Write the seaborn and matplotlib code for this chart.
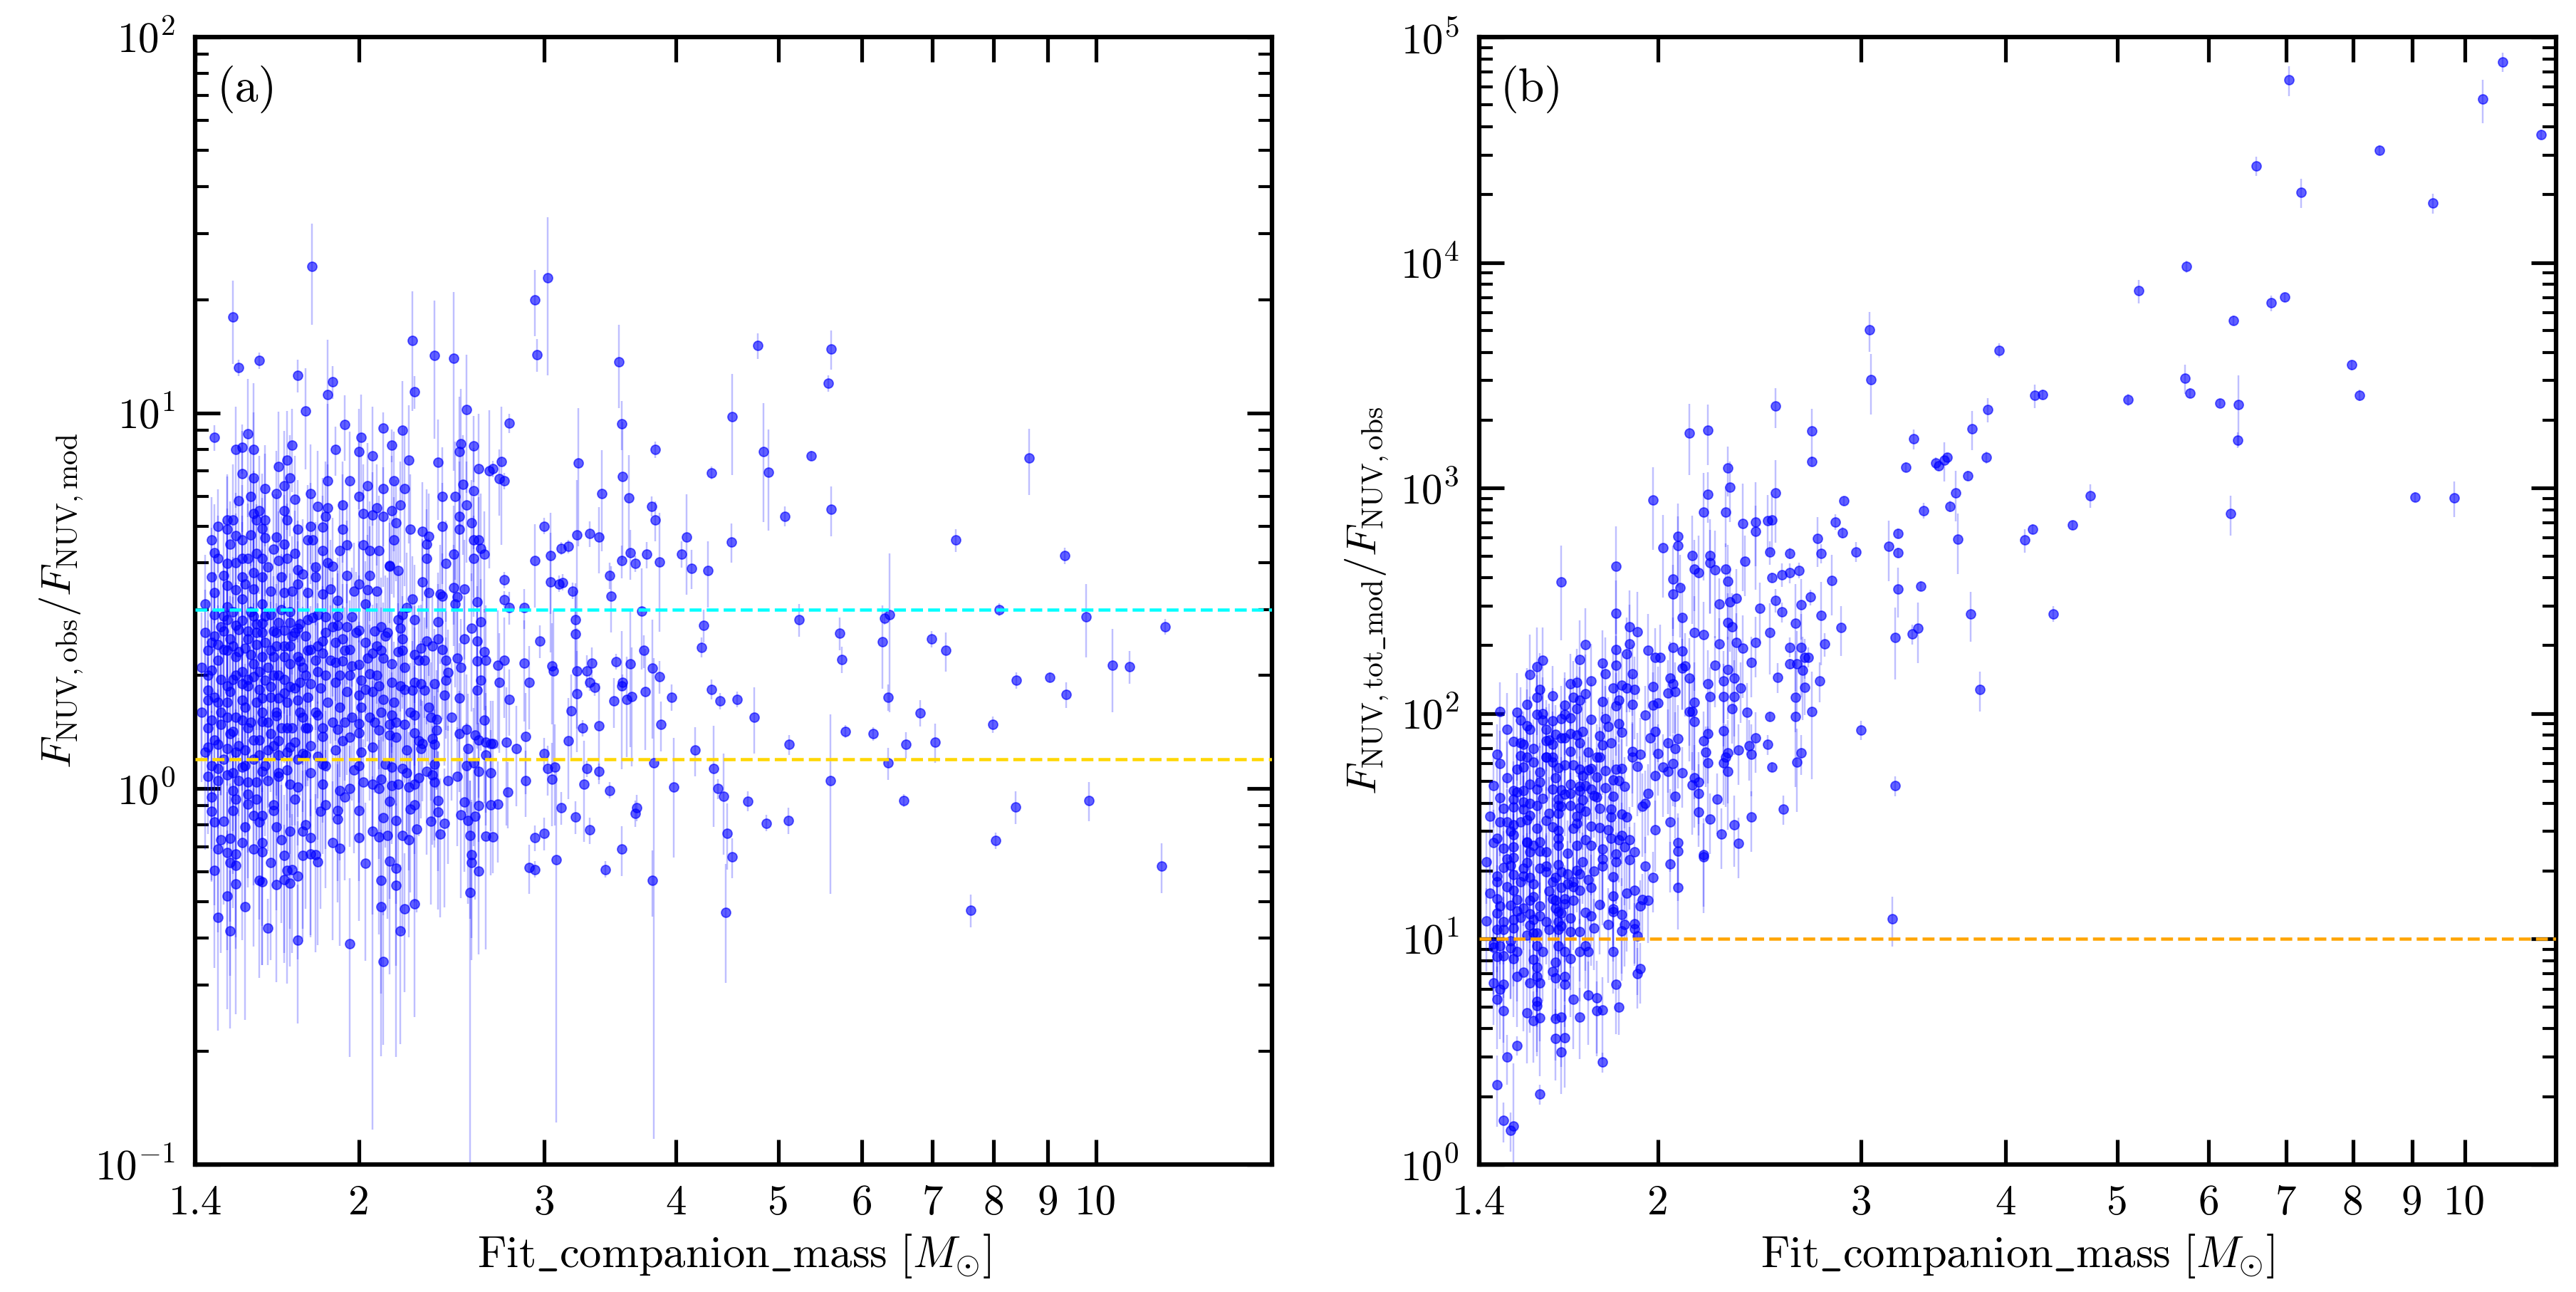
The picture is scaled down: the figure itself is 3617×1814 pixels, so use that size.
import numpy as np
import matplotlib
matplotlib.use("Agg")
import matplotlib.pyplot as plt
from matplotlib.ticker import FixedLocator, FixedFormatter, NullLocator, LogLocator, NullFormatter
import seaborn as sns

# (mass, ratio, relative error), panel (a)
a_sparse = [
    (3.82, 8.0, 0.05), (3.79, 5.65, 0.06), (3.82, 5.18, 0.12), (3.86, 4.02, 0.35), (3.75, 4.2, 0.08),
    (3.73, 2.33, 0.1), (3.80, 2.09, 0.35), (3.86, 1.99, 0.1), (3.74, 1.81, 0.3), (3.87, 1.48, 0.15),
    (3.81, 1.17, 0.9), (3.80, 0.57, 0.2), (3.96, 1.75, 0.08), (3.98, 1.01, 0.35), (4.05, 4.21, 0.08),
    (4.09, 4.68, 0.3), (4.14, 3.86, 0.12), (4.17, 1.27, 0.15), (4.23, 2.38, 0.06), (4.25, 2.72, 0.1),
    (4.29, 3.80, 0.2), (4.32, 6.92, 0.04), (4.32, 1.84, 0.06), (4.34, 1.13, 0.3), (4.38, 1.0, 0.06),
    (4.40, 1.71, 0.05), (4.44, 0.955, 0.3), (4.46, 0.468, 0.35), (4.47, 0.76, 0.2), (4.52, 9.75, 0.3),
    (4.51, 4.54, 0.12), (4.52, 0.658, 0.12), (4.57, 1.73, 0.05), (4.68, 0.927, 0.06), (4.74, 1.55, 0.2),
    (4.78, 15.1, 0.08), (4.84, 7.88, 0.35), (4.89, 6.95, 0.3), (4.87, 0.81, 0.05), (5.07, 5.31, 0.06),
    (5.12, 1.31, 0.06), (5.11, 0.824, 0.08), (5.23, 2.82, 0.1), (5.37, 7.69, 0.03), (5.58, 12.0, 0.05),
    (5.61, 14.8, 0.12), (5.61, 5.53, 0.15), (5.60, 1.05, 0.5), (5.72, 2.59, 0.1), (5.74, 2.21, 0.08),
    (5.79, 1.42, 0.04), (6.15, 1.40, 0.04), (6.28, 2.46, 0.25), (6.30, 2.84, 0.04), (6.37, 2.91, 0.45),
    (6.35, 1.75, 0.08), (6.35, 1.17, 0.1), (6.57, 0.931, 0.04), (6.61, 1.31, 0.08), (6.81, 1.59, 0.08),
    (6.99, 2.50, 0.05), (7.04, 1.33, 0.12), (7.21, 2.33, 0.12), (7.37, 4.59, 0.07), (7.61, 0.475, 0.1),
    (7.99, 1.48, 0.05), (8.04, 0.727, 0.05), (8.10, 3.0, 0.04), (8.41, 1.94, 0.05), (8.39, 0.895, 0.1),
    (8.64, 7.57, 0.2), (9.04, 1.98, 0.03), (9.35, 4.17, 0.05), (9.37, 1.78, 0.08), (9.79, 2.87, 0.22),
    (9.85, 0.931, 0.12), (10.37, 2.13, 0.25), (10.77, 2.11, 0.1), (11.55, 0.621, 0.15), (11.64, 2.70, 0.05),
]

a_mid = [
    (3.02, 22.9, 0.45), (2.94, 20.0, 0.2), (2.95, 14.3, 0.1), (2.78, 9.4, 0.06), (2.73, 7.42, 0.4),
    (2.72, 6.67, 0.2), (2.75, 6.6, 0.05), (2.68, 7.1, 0.05), (3.53, 13.7, 0.25), (3.55, 9.37, 0.15),
    (3.23, 7.35, 0.4), (3.40, 6.11, 0.3), (3.56, 6.77, 0.4), (3.61, 5.93, 0.3), (3.0, 5.0, 0.05),
    (2.94, 4.04, 0.25), (3.04, 4.17, 0.3), (3.04, 3.55, 0.35), (3.11, 4.36, 0.04), (3.16, 4.41, 0.04),
    (3.22, 4.74, 0.4), (3.31, 4.77, 0.08), (3.38, 4.68, 0.2), (2.75, 3.6, 0.05), (2.75, 3.19, 0.05),
    (2.78, 3.04, 0.1), (2.87, 3.03, 0.12), (3.10, 3.51, 0.05), (3.12, 3.54, 0.05), (3.19, 3.36, 0.05),
    (3.46, 3.70, 0.08), (3.47, 3.26, 0.2), (3.55, 4.04, 0.1), (3.62, 4.24, 0.15), (3.66, 3.97, 0.05),
    (2.97, 2.47, 0.1), (3.21, 2.82, 0.25), (3.21, 2.58, 0.3), (2.87, 2.16, 0.3), (2.90, 1.92, 0.25),
    (3.05, 2.12, 0.3), (3.06, 2.06, 0.45), (3.18, 1.61, 0.25), (3.22, 2.06, 0.3), (3.22, 1.79, 0.3),
    (3.26, 1.45, 0.05), (3.29, 2.06, 0.1), (3.31, 1.92, 0.05), (3.33, 2.16, 0.1), (3.35, 1.86, 0.05),
    (3.38, 1.47, 0.3), (3.16, 1.34, 0.3), (3.49, 1.71, 0.15), (3.51, 2.18, 0.05), (3.55, 1.88, 0.4),
    (3.56, 1.92, 0.05), (3.59, 1.73, 0.3), (3.62, 2.15, 0.4), (3.63, 1.76, 0.35), (3.71, 2.97, 0.3),
    (2.71, 2.13, 0.4), (2.72, 1.92, 0.35), (2.75, 2.20, 0.3), (2.78, 1.73, 0.2), (2.68, 1.32, 0.3),
    (2.76, 1.33, 0.4), (2.82, 1.28, 0.3), (2.88, 1.38, 0.3), (3.0, 1.24, 0.1), (3.02, 1.13, 0.15),
    (3.07, 1.14, 0.3), (3.05, 1.06, 0.25), (3.29, 1.13, 0.05), (3.27, 1.03, 0.3), (3.38, 1.11, 0.05),
    (2.88, 1.05, 0.2), (2.77, 0.98, 0.2), (2.71, 0.91, 0.3), (3.11, 0.89, 0.1), (3.46, 0.99, 0.05),
    (3.21, 0.84, 0.1), (3.31, 0.776, 0.08), (3.67, 0.89, 0.08), (3.66, 0.86, 0.08), (2.68, 0.745, 0.2),
    (2.94, 0.74, 0.08), (3.0, 0.76, 0.1), (3.08, 0.648, 0.8), (2.90, 0.618, 0.15), (2.94, 0.61, 0.05),
    (3.43, 0.61, 0.05), (3.55, 0.69, 0.15),
]

a_upper = [
    (1.805, 24.5, 0.3), (1.52, 18.0, 0.25), (1.54, 13.2, 0.05), (1.61, 13.8, 0.05), (1.75, 12.6, 0.1),
    (1.89, 12.1, 0.1), (1.87, 11.2, 0.4), (1.78, 10.1, 0.3), (2.25, 15.6, 0.35), (2.26, 11.4, 0.1),
    (2.36, 14.2, 0.4), (2.46, 14.0, 0.5), (2.53, 10.2, 0.4), (1.46, 8.6, 0.08), (1.57, 8.8, 0.4),
    (1.53, 8.0, 0.3), (1.55, 8.1, 0.15), (1.59, 8.0, 0.5), (1.55, 6.88, 0.3), (1.54, 5.85, 0.4),
    (1.59, 6.7, 0.5), (1.58, 6.0, 0.35), (1.59, 5.4, 0.3), (1.61, 5.5, 0.4), (1.60, 5.2, 0.3),
    (1.63, 6.3, 0.3), (1.63, 5.2, 0.5), (1.62, 4.93, 0.4), (1.68, 7.2, 0.4), (1.67, 6.1, 0.3),
    (1.71, 7.5, 0.35), (1.73, 8.2, 0.25), (1.72, 6.7, 0.3), (1.70, 6.4, 0.4), (1.74, 5.9, 0.3),
    (1.70, 5.5, 0.4), (1.71, 5.2, 0.3), (1.75, 4.9, 0.35), (1.50, 5.2, 0.3), (1.52, 5.2, 0.4),
    (1.47, 5.0, 0.25), (1.50, 4.9, 0.4), (1.45, 4.6, 0.3), (1.46, 4.24, 0.35), (1.51, 4.47, 0.3),
    (1.58, 4.74, 0.45), (1.53, 4.72, 0.3), (1.55, 4.6, 0.4), (1.63, 4.65, 0.3), (1.67, 4.67, 0.3),
    (1.70, 4.47, 0.35), (1.80, 5.0, 0.3), (1.79, 4.6, 0.4), (1.81, 4.6, 0.3), (1.85, 4.97, 0.35),
    (1.86, 5.3, 0.4), (1.87, 5.6, 0.3), (1.83, 5.65, 0.4), (1.80, 6.1, 0.35), (1.87, 6.6, 0.6),
    (1.90, 8.0, 0.15), (1.94, 9.3, 0.2), (1.96, 6.6, 0.35), (1.93, 5.7, 0.3), (1.93, 4.9, 0.4),
    (2.00, 7.9, 0.3), (2.01, 8.6, 0.3), (2.04, 6.4, 0.3), (2.00, 6.0, 0.4), (2.02, 5.4, 0.35),
    (2.06, 7.7, 0.35), (2.06, 5.35, 0.3), (2.08, 5.6, 0.3), (2.11, 9.1, 0.1), (2.15, 8.2, 0.1),
    (2.11, 6.3, 0.3), (2.11, 5.3, 0.35), (2.16, 6.6, 0.35), (2.15, 5.5, 0.4), (2.17, 5.1, 0.3),
    (2.16, 4.6, 0.3), (2.20, 9.0, 0.35), (2.23, 7.49, 0.4), (2.21, 6.3, 0.45), (2.19, 5.7, 0.3),
    (2.24, 4.9, 0.4), (2.38, 7.4, 0.3), (2.40, 6.0, 0.35), (2.47, 6.0, 0.4), (2.50, 8.27, 0.4),
    (2.49, 7.9, 0.4), (2.57, 8.17, 0.2), (2.60, 7.1, 0.4), (2.66, 7.0, 0.45), (2.51, 6.45, 0.35),
    (2.57, 6.2, 0.3), (2.53, 5.7, 0.3), (2.49, 5.3, 0.4), (2.56, 5.1, 0.3), (2.49, 4.9, 0.3),
    (2.40, 5.0, 0.3), (2.30, 4.85, 0.35), (2.33, 4.7, 0.3), (2.32, 4.47, 0.4), (2.57, 4.6, 0.3),
    (2.60, 4.6, 0.3), (2.61, 4.35, 0.4), (2.63, 4.2, 0.3), (2.57, 4.1, 0.3), (2.46, 4.2, 0.35),
    (2.42, 3.97, 0.3), (2.32, 4.1, 0.35), (2.14, 3.93, 0.3), (2.18, 3.8, 0.3), (2.09, 4.3, 0.4),
    (2.05, 4.3, 0.35), (2.02, 4.45, 0.4), (1.95, 4.45, 0.3), (1.92, 4.3, 0.35), (1.85, 4.3, 0.4),
    (1.87, 4.0, 0.3), (1.89, 3.9, 0.35), (1.82, 3.89, 0.3), (1.77, 3.73, 0.4), (1.75, 3.83, 0.35),
    (1.74, 4.23, 0.3), (1.71, 4.1, 0.4), (1.68, 4.05, 0.35), (1.66, 4.34, 0.4), (1.64, 3.89, 0.3),
    (1.62, 4.1, 0.45), (1.60, 4.23, 0.35), (1.57, 4.1, 0.4), (1.55, 4.1, 0.3), (1.53, 4.0, 0.35),
    (1.50, 3.97, 0.4), (1.47, 4.1, 0.3), (1.45, 3.66, 0.35), (1.49, 3.69, 0.4), (1.46, 3.32, 0.3),
    (1.50, 3.47, 0.45), (1.53, 3.38, 0.35), (1.55, 3.66, 0.4), (1.56, 3.5, 0.3), (1.59, 3.76, 0.45),
    (1.59, 3.4, 0.35), (1.62, 3.66, 0.4), (1.65, 3.35, 0.3), (1.69, 3.66, 0.45), (1.70, 3.33, 0.35),
    (1.73, 3.35, 0.4), (1.75, 3.5, 0.3), (1.79, 3.33, 0.35), (1.82, 3.66, 0.4), (1.85, 3.3, 0.3),
    (1.88, 3.4, 0.35), (1.91, 3.17, 0.3), (1.95, 3.69, 0.4), (1.98, 3.35, 0.35), (2.00, 3.5, 0.3),
    (2.04, 3.38, 0.4), (2.05, 3.69, 0.35), (2.08, 3.35, 0.3), (2.03, 3.1, 0.3), (2.14, 3.9, 0.35),
    (2.25, 3.2, 0.3), (2.22, 3.03, 0.4), (2.30, 3.55, 0.3), (2.33, 3.33, 0.4), (2.39, 3.3, 0.35),
    (2.40, 3.25, 0.3), (2.46, 3.43, 0.3), (2.52, 3.4, 0.35), (2.48, 3.24, 0.3), (2.47, 3.1, 0.4),
    (2.59, 3.14, 0.3),
]

a_core = [
    (2.26, 2.82, 0.4), (2.38, 2.78, 0.35), (2.61, 2.78, 0.3), (2.56, 2.67, 0.4), (2.18, 2.82, 0.35),
    (2.20, 2.9, 0.3), (2.19, 2.67, 0.4), (2.10, 2.7, 0.35), (2.07, 2.63, 0.3), (2.12, 2.55, 0.45),
    (2.00, 2.64, 0.4), (1.97, 2.87, 0.35), (1.95, 2.7, 0.3), (1.91, 2.72, 0.4), (1.89, 2.7, 0.35),
    (1.91, 2.88, 0.3), (1.86, 2.87, 0.4), (1.83, 2.9, 0.35), (1.79, 2.82, 0.3), (1.75, 2.67, 0.45),
    (1.72, 2.77, 0.35), (1.70, 2.64, 0.4), (1.73, 2.55, 0.3), (1.68, 2.77, 0.35), (1.66, 2.63, 0.4),
    (1.63, 2.88, 0.3), (1.62, 2.76, 0.35), (1.60, 2.6, 0.45), (1.62, 2.6, 0.4), (1.59, 2.88, 0.3),
    (1.55, 2.8, 0.35), (1.57, 2.63, 0.4), (1.53, 2.72, 0.3), (1.50, 2.82, 0.35), (1.49, 2.88, 0.4),
    (1.46, 2.55, 0.3), (1.49, 2.63, 0.45), (1.44, 2.33, 0.35), (1.47, 2.42, 0.4), (1.50, 2.33, 0.3),
    (1.52, 2.4, 0.35), (1.54, 2.31, 0.4), (1.56, 2.37, 0.3), (1.58, 2.27, 0.35), (1.60, 2.42, 0.45),
    (1.62, 2.25, 0.4), (1.65, 2.33, 0.35), (1.67, 2.4, 0.3), (1.70, 2.25, 0.4), (1.72, 2.4, 0.35),
    (1.76, 2.19, 0.3), (1.79, 2.33, 0.4), (1.82, 2.2, 0.35), (1.85, 2.29, 0.3), (1.85, 2.47, 0.4),
    (1.90, 2.17, 0.35), (1.94, 2.33, 0.3), (1.93, 2.19, 0.4), (1.97, 2.12, 0.35), (2.00, 2.14, 0.3),
    (2.04, 2.23, 0.4), (2.06, 2.29, 0.35), (2.10, 2.33, 0.3), (2.11, 2.23, 0.4), (2.05, 2.02, 0.35),
    (2.08, 2.0, 0.3), (2.15, 2.15, 0.4), (2.18, 2.31, 0.35), (2.20, 2.33, 0.3), (2.21, 2.1, 0.4),
    (2.26, 2.27, 0.35), (2.29, 2.37, 0.3), (2.32, 2.47, 0.4), (2.35, 2.4, 0.35), (2.31, 2.2, 0.3),
    (2.38, 2.5, 0.4), (2.42, 2.2, 0.35), (2.43, 2.04, 0.3), (2.48, 2.23, 0.4), (2.50, 2.1, 0.35),
    (2.52, 2.5, 0.3), (2.59, 2.47, 0.4), (2.59, 2.19, 0.35), (2.63, 2.31, 0.3), (2.64, 2.2, 0.4),
    (2.61, 1.94, 0.35), (2.59, 1.83, 0.3), (2.49, 1.74, 0.4), (2.41, 1.77, 0.35), (2.42, 1.94, 0.3),
    (2.36, 1.9, 0.4), (2.31, 1.83, 0.35), (2.29, 1.9, 0.3), (2.26, 1.92, 0.4), (2.25, 1.83, 0.35),
    (2.21, 1.84, 0.3), (2.19, 1.88, 0.4), (2.15, 1.92, 0.35), (2.11, 1.73, 0.3), (2.09, 1.88, 0.4),
    (2.06, 1.81, 0.35), (2.03, 1.84, 0.3), (2.00, 1.77, 0.4), (2.01, 1.94, 0.35), (1.96, 2.0, 0.3),
    (1.95, 1.81, 0.4), (1.92, 2.0, 0.35), (1.90, 1.92, 0.3), (1.86, 2.0, 0.4), (1.83, 2.05, 0.35),
    (1.80, 1.9, 0.3), (1.78, 2.0, 0.4), (1.76, 1.92, 0.35), (1.75, 1.72, 0.3), (1.72, 1.87, 0.4),
    (1.70, 1.8, 0.35), (1.68, 1.74, 0.3), (1.66, 2.0, 0.4), (1.65, 1.87, 0.35), (1.63, 1.94, 0.3),
    (1.62, 1.74, 0.4), (1.61, 1.84, 0.35), (1.59, 1.99, 0.3), (1.57, 1.88, 0.4), (1.55, 1.72, 0.35),
    (1.55, 1.9, 0.3), (1.53, 2.0, 0.4), (1.51, 1.81, 0.35), (1.50, 1.88, 0.3), (1.48, 1.95, 0.4),
    (1.44, 1.83, 0.35), (1.44, 1.72, 0.3), (1.45, 2.07, 0.4), (1.47, 1.7, 0.35),
]

# the solid blob of overlapping markers, estimated from its density
a_blob = [
    (1.42, 2.1, 0.4), (1.42, 1.6, 0.35), (1.43, 2.6, 0.3), (1.43, 1.25, 0.45), (1.43, 3.1, 0.35),
    (1.44, 2.0, 0.4), (1.44, 1.45, 0.3), (1.45, 2.45, 0.35), (1.45, 1.15, 0.4), (1.46, 2.9, 0.3),
    (1.46, 1.75, 0.45), (1.46, 1.35, 0.35), (1.47, 2.2, 0.4), (1.47, 1.05, 0.3), (1.48, 2.7, 0.35),
    (1.48, 1.6, 0.4), (1.49, 2.35, 0.45), (1.49, 1.2, 0.3), (1.50, 3.05, 0.35), (1.50, 1.7, 0.4),
    (1.51, 2.5, 0.3), (1.51, 1.4, 0.35), (1.52, 2.95, 0.4), (1.52, 1.95, 0.45), (1.52, 1.1, 0.3),
    (1.53, 2.25, 0.35), (1.53, 1.55, 0.4), (1.54, 2.65, 0.3), (1.54, 1.3, 0.35), (1.55, 3.2, 0.4),
    (1.55, 2.05, 0.45), (1.56, 1.65, 0.3), (1.56, 1.15, 0.35), (1.57, 2.5, 0.4), (1.57, 1.95, 0.3),
    (1.58, 2.95, 0.35), (1.58, 1.5, 0.4), (1.59, 2.15, 0.45), (1.59, 1.2, 0.3), (1.60, 2.75, 0.35),
    (1.60, 1.7, 0.4), (1.61, 2.05, 0.3), (1.61, 1.35, 0.35), (1.62, 3.1, 0.4), (1.62, 1.6, 0.45),
    (1.63, 2.45, 0.3), (1.63, 1.15, 0.35), (1.64, 2.1, 0.4), (1.64, 1.5, 0.3), (1.65, 2.9, 0.35),
    (1.65, 1.75, 0.4), (1.66, 2.25, 0.45), (1.66, 1.3, 0.3), (1.67, 2.6, 0.35), (1.67, 1.6, 0.4),
    (1.68, 2.0, 0.3), (1.68, 1.1, 0.35), (1.69, 3.0, 0.4), (1.69, 1.45, 0.45), (1.70, 2.4, 0.3),
    (1.70, 1.95, 0.35), (1.71, 1.7, 0.4), (1.71, 1.25, 0.3), (1.72, 2.95, 0.35), (1.72, 2.15, 0.4),
    (1.73, 1.45, 0.45), (1.74, 2.6, 0.3), (1.74, 1.85, 0.35), (1.75, 2.25, 0.4), (1.75, 1.2, 0.3),
    (1.76, 2.75, 0.35), (1.76, 1.6, 0.4), (1.77, 2.1, 0.45), (1.78, 1.45, 0.3), (1.78, 2.55, 0.35),
    (1.79, 1.75, 0.4), (1.80, 2.35, 0.3), (1.80, 1.3, 0.35), (1.81, 2.85, 0.4), (1.82, 1.6, 0.45),
    (1.83, 2.4, 0.3), (1.84, 1.85, 0.35), (1.85, 1.45, 0.4), (1.86, 2.6, 0.3), (1.87, 1.7, 0.35),
    (1.88, 2.2, 0.4), (1.89, 1.5, 0.45), (1.90, 2.45, 0.3), (1.92, 1.65, 0.35), (1.93, 2.5, 0.4),
    (1.94, 1.5, 0.3), (1.96, 2.35, 0.35), (1.97, 1.55, 0.4), (1.99, 2.6, 0.45), (2.01, 1.65, 0.3),
    (2.03, 2.45, 0.35), (2.05, 1.55, 0.4), (2.08, 2.4, 0.3), (2.10, 1.6, 0.35), (2.13, 2.6, 0.4),
    (2.16, 1.7, 0.45), (2.20, 2.5, 0.3), (2.24, 1.6, 0.35), (2.28, 2.2, 0.4), (2.33, 1.65, 0.3),
    (2.40, 2.35, 0.35), (2.45, 1.55, 0.4),
]

a_low = [
    (1.45, 1.52, 0.4), (1.48, 1.48, 0.35), (1.50, 1.55, 0.3), (1.52, 1.42, 0.4), (1.55, 1.52, 0.35),
    (1.57, 1.45, 0.3), (1.59, 1.35, 0.4), (1.62, 1.51, 0.35), (1.65, 1.40, 0.3), (1.67, 1.56, 0.4),
    (1.68, 1.34, 0.35), (1.71, 1.45, 0.3), (1.74, 1.33, 0.4), (1.77, 1.55, 0.35), (1.79, 1.45, 0.3),
    (1.83, 1.57, 0.4), (1.85, 1.38, 0.35), (1.90, 1.27, 0.3), (1.91, 1.44, 0.4), (1.93, 1.34, 0.35),
    (1.96, 1.37, 0.3), (2.0, 1.49, 0.4), (2.0, 1.41, 0.35), (2.01, 1.25, 0.3), (2.06, 1.29, 0.4),
    (2.07, 1.5, 0.35), (2.09, 1.43, 0.3), (2.14, 1.48, 0.4), (2.14, 1.39, 0.35), (2.15, 1.57, 0.3),
    (2.17, 1.5, 0.4), (2.17, 1.37, 0.35), (2.21, 1.48, 0.3), (2.22, 1.27, 0.4), (2.26, 1.57, 0.35),
    (2.26, 1.41, 0.3), (2.28, 1.34, 0.4), (2.29, 1.28, 0.35), (2.30, 1.32, 0.3), (2.34, 1.55, 0.4),
    (2.37, 1.53, 0.35), (2.37, 1.43, 0.3), (2.35, 1.36, 0.4), (2.36, 1.31, 0.35), (2.49, 1.40, 0.3),
    (2.53, 1.44, 0.4), (2.58, 1.39, 0.35), (2.60, 1.35, 0.3), (2.63, 1.52, 0.4), (2.64, 1.33, 0.35),
    (2.67, 1.32, 0.3), (2.54, 1.28, 0.4), (2.64, 1.23, 0.35), (1.44, 1.29, 0.3), (1.47, 1.31, 0.4),
    (1.50, 1.28, 0.35), (1.53, 1.25, 0.3), (1.56, 1.27, 0.4), (1.61, 1.23, 0.35), (1.64, 1.27, 0.3),
    (1.68, 1.23, 0.4), (1.72, 1.29, 0.35), (1.77, 1.24, 0.3), (1.83, 1.22, 0.4), (1.78, 1.23, 0.35),
    (1.44, 1.08, 0.3), (1.47, 1.13, 0.4), (1.50, 1.09, 0.35), (1.54, 1.05, 0.3), (1.55, 1.14, 0.4),
    (1.57, 1.04, 0.35), (1.60, 1.04, 0.3), (1.62, 1.11, 0.4), (1.64, 1.05, 0.35), (1.68, 1.08, 0.3),
    (1.71, 1.12, 0.4), (1.72, 1.03, 0.35), (1.75, 1.01, 0.3), (1.80, 1.10, 0.4), (1.85, 1.03, 0.35),
    (1.85, 1.16, 0.3), (1.86, 1.15, 0.4), (1.92, 0.99, 0.35), (1.96, 1.0, 0.3), (1.98, 1.12, 0.4),
    (2.0, 1.15, 0.35), (2.02, 1.04, 0.3), (2.06, 1.03, 0.88), (2.09, 1.0, 0.35), (2.10, 1.06, 0.3),
    (2.12, 1.16, 0.4), (2.15, 1.14, 0.35), (2.15, 1.02, 0.3), (2.18, 1.03, 0.4), (2.20, 1.13, 0.35),
    (2.22, 1.10, 0.3), (2.23, 1.01, 0.4), (2.26, 1.03, 0.35), (2.28, 1.07, 0.3), (2.32, 1.11, 0.4),
    (2.35, 1.09, 0.35), (2.36, 1.04, 0.3), (2.43, 1.05, 0.4), (2.48, 1.08, 0.35), (2.53, 1.15, 0.3),
    (2.57, 1.17, 0.4), (2.60, 1.11, 0.35), (2.67, 1.10, 0.3), (2.36, 1.16, 0.4),
    (1.45, 0.95, 0.4), (1.45, 0.87, 0.35), (1.46, 0.815, 0.4), (1.48, 0.73, 0.5), (1.47, 0.69, 0.4),
    (1.46, 0.607, 0.45), (1.47, 0.454, 0.5), (1.49, 0.82, 0.4), (1.50, 0.676, 0.45), (1.50, 0.517, 0.5),
    (1.51, 0.418, 0.45), (1.51, 0.635, 0.5), (1.51, 0.739, 0.4), (1.52, 0.875, 0.45), (1.53, 0.624, 0.4),
    (1.53, 0.557, 0.55), (1.53, 0.67, 0.4), (1.55, 0.72, 0.45), (1.56, 0.79, 0.4), (1.56, 0.485, 0.5),
    (1.52, 0.99, 0.4), (1.53, 0.94, 0.35), (1.57, 0.91, 0.4), (1.59, 0.69, 0.45), (1.57, 0.965, 0.4),
    (1.59, 0.85, 0.35), (1.60, 0.94, 0.4), (1.61, 0.815, 0.45), (1.62, 0.72, 0.4), (1.62, 0.68, 0.5),
    (1.61, 0.57, 0.45), (1.62, 0.565, 0.4), (1.62, 0.85, 0.35), (1.64, 0.425, 0.2), (1.65, 0.637, 0.45),
    (1.66, 0.906, 0.4), (1.66, 0.875, 0.35), (1.67, 0.79, 0.4), (1.67, 0.556, 0.45), (1.69, 0.732, 0.4),
    (1.70, 0.664, 0.45), (1.70, 0.573, 0.4), (1.71, 0.607, 0.5), (1.72, 0.56, 0.4), (1.72, 0.77, 0.45),
    (1.73, 0.61, 0.4), (1.74, 0.94, 0.35), (1.75, 0.396, 0.4), (1.75, 0.586, 0.4), (1.77, 0.77, 0.45),
    (1.78, 0.80, 0.4), (1.77, 0.664, 0.4), (1.80, 0.74, 0.45), (1.80, 0.67, 0.4), (1.82, 0.667, 0.45),
    (1.83, 0.638, 0.4), (1.84, 0.87, 0.45), (1.86, 0.906, 0.4), (1.89, 0.72, 0.45), (1.91, 0.83, 0.4),
    (1.91, 0.875, 0.35), (1.92, 0.694, 0.45), (1.96, 0.386, 0.5), (1.94, 0.95, 0.4), (2.00, 0.875, 0.35),
    (2.00, 0.74, 0.4), (2.03, 0.633, 0.45), (2.06, 0.77, 0.4), (2.09, 0.745, 0.45), (2.10, 0.57, 0.5),
    (2.10, 0.485, 0.6), (2.11, 0.347, 0.4), (2.11, 0.837, 0.45), (2.13, 0.752, 0.4), (2.14, 0.926, 0.45),
    (2.14, 0.641, 0.5), (2.17, 0.613, 0.45), (2.17, 0.553, 0.65), (2.17, 0.822, 0.4), (2.19, 0.418, 0.5),
    (2.20, 0.752, 0.45), (2.21, 0.48, 0.4), (2.23, 0.732, 0.45), (2.24, 0.883, 0.4), (2.26, 0.906, 0.45),
    (2.26, 0.493, 0.5), (2.27, 0.78, 0.4), (2.34, 0.818, 0.4), (2.38, 0.867, 0.45), (2.39, 0.759, 0.4),
    (2.41, 0.807, 0.4), (2.38, 0.93, 0.35), (2.50, 0.852, 0.4), (2.52, 0.923, 0.35), (2.54, 0.822, 0.4),
    (2.55, 0.752, 0.4), (2.56, 0.667, 0.4), (2.56, 0.637, 0.45), (2.55, 0.53, 0.98), (2.60, 0.604, 0.4),
    (2.58, 0.844, 0.4), (2.60, 0.9, 0.35), (2.64, 0.746, 0.5), (2.67, 0.906, 0.35),
]

# panel (b)
b_sparse = [
    (3.40, 796, 0.08), (3.48, 1288, 0.06), (3.50, 1256, 0.05), (3.54, 1333, 0.2), (3.56, 1365, 0.05),
    (3.58, 830, 0.06), (3.62, 951, 0.25), (3.64, 593, 0.3), (3.71, 1135, 0.05), (3.74, 1836, 0.2),
    (3.73, 277, 0.25), (3.80, 128, 0.2), (3.85, 1368, 0.06), (3.86, 2228, 0.12), (3.95, 4090, 0.07),
    (4.16, 588, 0.12), (4.22, 656, 0.05), (4.24, 2571, 0.12), (4.31, 2600, 0.05), (4.40, 277, 0.08),
    (4.57, 684, 0.05), (4.74, 927, 0.12), (5.11, 2466, 0.06), (5.22, 7505, 0.12), (5.72, 3070, 0.15),
    (5.74, 9594, 0.06), (5.78, 2637, 0.05), (6.14, 2384, 0.04), (6.27, 770, 0.2), (6.30, 5540, 0.05),
    (6.36, 1631, 0.08), (6.37, 2344, 0.35), (6.60, 26850, 0.1), (6.80, 6620, 0.08), (6.98, 7020, 0.05),
    (7.04, 64500, 0.15), (7.21, 20480, 0.15), (7.98, 3513, 0.05), (8.11, 2586, 0.06), (8.43, 31480, 0.05),
    (9.05, 912, 0.05), (9.38, 18350, 0.1), (9.79, 904, 0.18), (10.37, 53100, 0.22), (10.78, 77600, 0.1),
    (11.64, 36970, 0.05),
]

b_mid = [
    (3.05, 5020, 0.2), (3.06, 3020, 0.3), (2.53, 2310, 0.2), (2.72, 1790, 0.25), (2.72, 1312, 0.05),
    (2.53, 951, 0.4), (2.51, 723, 0.3), (2.50, 520, 0.12), (2.90, 876, 0.05), (2.85, 709, 0.08),
    (2.89, 634, 0.06), (2.75, 596, 0.25), (2.77, 513, 0.1), (2.97, 522, 0.1), (2.51, 400, 0.05),
    (2.56, 413, 0.12), (2.60, 420, 0.1), (2.60, 513, 0.06), (2.65, 431, 0.08), (2.71, 328, 0.08),
    (2.53, 318, 0.12), (2.56, 282, 0.1), (2.50, 229, 0.35), (2.83, 388, 0.3), (2.66, 303, 0.3),
    (2.63, 251, 0.5), (2.77, 273, 0.4), (2.79, 203, 0.12), (2.88, 240, 0.25), (2.60, 197, 0.1),
    (2.66, 197, 0.4), (2.68, 178, 0.2), (2.70, 178, 0.1), (2.60, 166, 0.05), (2.64, 166, 0.4),
    (2.67, 156, 0.4), (2.54, 145, 0.15), (2.76, 140, 0.2), (2.68, 131, 0.25), (2.63, 118, 0.6),
    (2.72, 102, 0.5), (2.50, 97, 0.05), (2.63, 97, 0.15), (2.49, 73, 0.1), (2.51, 58, 0.05),
    (2.66, 67, 0.2), (2.64, 61, 0.4), (2.57, 37.7, 0.15), (3.00, 84.5, 0.1), (3.21, 47.8, 0.1),
    (3.19, 12.3, 0.25), (3.17, 553, 0.3), (3.23, 630, 0.05), (3.23, 516, 0.05), (3.23, 356, 0.25),
    (3.21, 218, 0.35), (3.28, 1240, 0.05), (3.33, 1650, 0.1), (3.32, 225, 0.1), (3.36, 239, 0.3),
    (3.38, 367, 0.05),
]

b_upper = [
    (2.13, 1755, 0.35), (2.21, 1800, 0.3), (2.30, 1225, 0.25), (2.31, 1008, 0.3), (1.98, 885, 0.4),
    (2.21, 938, 0.25), (2.19, 780, 0.5), (2.29, 780, 0.3), (2.37, 698, 0.5), (2.43, 708, 0.5),
    (2.43, 644, 0.3), (2.49, 718, 0.3), (2.08, 611, 0.4), (2.08, 555, 0.35), (2.02, 544, 0.4),
    (2.14, 501, 0.5), (2.22, 503, 0.45), (2.22, 465, 0.4), (2.15, 437, 0.35), (2.17, 423, 0.45),
    (2.24, 433, 0.5), (2.29, 437, 0.3), (2.38, 474, 0.3), (2.30, 387, 0.45), (2.06, 396, 0.4),
    (2.09, 362, 0.4), (2.06, 339, 0.35), (1.84, 450, 0.5), (1.65, 383, 0.45), (2.26, 306, 0.3),
    (2.31, 313, 0.4), (2.34, 324, 0.35), (2.45, 293, 0.3), (2.10, 267, 0.4), (2.15, 229, 0.45),
    (2.19, 224, 0.4), (2.30, 253, 0.35), (2.32, 243, 0.4), (1.84, 278, 0.4), (1.89, 243, 0.45),
    (1.92, 231, 0.5), (2.26, 204, 0.3), (2.34, 207, 0.35), (2.37, 195, 0.4), (2.43, 206, 0.3),
    (2.41, 169, 0.3), (2.24, 164, 0.35), (2.30, 157, 0.4), (2.33, 144, 0.45), (2.21, 136, 0.4),
    (2.28, 140, 0.35), (2.36, 130, 0.3), (2.22, 119, 0.35), (2.28, 119, 0.4), (2.33, 119, 0.45),
    (2.32, 105, 0.3), (2.39, 101, 0.35), (2.35, 68.9, 0.3), (2.40, 71.9, 0.3), (2.41, 66.1, 0.35),
    (2.43, 78, 0.3), (2.28, 83.8, 0.35), (2.29, 64.0, 0.4), (2.28, 60.5, 0.35), (2.30, 66.7, 0.4),
    (2.30, 55.6, 0.45), (2.21, 81.5, 0.4), (2.19, 75.5, 0.35), (2.20, 67.6, 0.3), (2.21, 60.3, 0.45),
    (2.22, 34.0, 0.3), (2.27, 29.2, 0.3), (2.33, 32.1, 0.35), (2.35, 26.6, 0.3), (2.41, 34.8, 0.3),
    (2.25, 41.7, 0.3), (2.17, 44.2, 0.35), (2.17, 36.6, 0.3), (2.15, 51.9, 0.4), (2.17, 49.8, 0.35),
    (2.14, 48.3, 0.4), (2.13, 144, 0.5), (2.14, 102, 0.45), (2.15, 112, 0.5), (2.15, 92.5, 0.55),
    (2.13, 102, 0.4), (2.10, 159, 0.35), (2.11, 162, 0.4), (2.10, 189, 0.45), (2.06, 197, 0.35),
    (2.04, 123, 0.4), (2.05, 144, 0.45), (2.06, 136, 0.4), (2.07, 125, 0.35), (2.08, 77.6, 0.4),
    (2.07, 69.8, 0.45), (2.06, 59.8, 0.35), (2.04, 74.3, 0.4), (2.10, 54.7, 0.3), (2.07, 42.9, 0.35),
    (2.05, 33.0, 0.4), (2.08, 26.7, 0.35), (1.99, 83.4, 0.4), (1.97, 78.2, 0.45), (2.00, 66.5, 0.35),
    (1.98, 109, 0.4), (2.00, 111, 0.45), (1.98, 132, 0.4), (1.95, 98.2, 0.35), (2.02, 57.8, 0.4),
    (2.04, 55.2, 0.35), (1.99, 52.9, 0.4), (1.96, 44.2, 0.35), (1.94, 38.7, 0.4), (1.99, 30.5, 0.35),
    (1.96, 191, 0.45), (2.01, 177, 0.4), (1.99, 177, 0.35), (1.91, 128, 0.4), (1.90, 150, 0.35),
    (1.89, 203, 0.5), (1.88, 184, 0.45), (1.84, 192, 0.4), (1.84, 164, 0.35), (1.83, 130, 0.45),
    (1.86, 134, 0.4), (1.85, 115, 0.35), (1.84, 108, 0.4), (1.88, 130, 0.45), (1.79, 167, 0.4),
    (1.79, 113, 0.45), (1.80, 94.9, 0.4), (1.81, 87.3, 0.35), (1.86, 82.6, 0.4), (1.90, 67.9, 0.35),
    (1.90, 64.3, 0.4), (1.93, 66.1, 0.45), (1.92, 58.4, 0.4), (1.78, 64.3, 0.35), (1.79, 72.4, 0.4),
    (1.82, 74.0, 0.45), (1.80, 56.0, 0.35), (1.84, 56.7, 0.4), (1.86, 57, 0.35), (1.83, 50.6, 0.4),
    (1.85, 50.5, 0.45), (1.87, 47.6, 0.35), (1.80, 46.7, 0.4), (1.77, 52.3, 0.35), (1.75, 46.2, 0.4),
    (1.76, 43.4, 0.35), (1.77, 42.7, 0.4), (1.83, 43.0, 0.45), (1.82, 37.6, 0.4), (1.82, 34.8, 0.35),
    (1.86, 35.8, 0.4), (1.88, 34.7, 0.35), (1.81, 30.6, 0.4), (1.78, 31.2, 0.35), (1.75, 31.6, 0.4),
    (1.73, 36.8, 0.45), (1.72, 41.4, 0.4), (1.71, 45.4, 0.35), (1.72, 52.9, 0.4), (1.71, 56.8, 0.45),
    (1.74, 56.3, 0.4), (1.75, 57, 0.35), (1.77, 64, 0.4), (1.78, 79.8, 0.45), (1.74, 67.5, 0.4),
    (1.71, 73.9, 0.35), (1.72, 83.4, 0.4), (1.75, 94, 0.45), (1.73, 122, 0.5), (1.71, 115, 0.4),
    (1.69, 118, 0.45), (1.70, 138, 0.4), (1.68, 136, 0.35), (1.71, 173, 0.5), (1.73, 202, 0.45),
    (1.66, 109, 0.4), (1.66, 99, 0.45), (1.68, 95.5, 0.4), (1.70, 80.4, 0.35), (1.68, 81.4, 0.4),
    (1.66, 78.2, 0.45), (1.65, 78, 0.4), (1.63, 81, 0.35), (1.62, 93, 0.4), (1.61, 76.5, 0.45),
    (1.62, 73, 0.4), (1.60, 64, 0.35), (1.62, 64, 0.4), (1.62, 60.8, 0.45), (1.64, 57.5, 0.4),
    (1.66, 59.1, 0.35), (1.69, 59, 0.4), (1.68, 48.6, 0.45), (1.68, 44.2, 0.4), (1.71, 47.7, 0.35),
    (1.65, 45.8, 0.4), (1.62, 46.2, 0.45), (1.64, 41.7, 0.4), (1.64, 39.0, 0.35), (1.64, 36, 0.4),
    (1.65, 38.7, 0.45), (1.68, 39, 0.4), (1.71, 38.1, 0.35), (1.70, 32.5, 0.4), (1.69, 30.9, 0.45),
    (1.64, 30.3, 0.4), (1.62, 31.4, 0.35), (1.60, 33.6, 0.4), (1.58, 49.6, 0.45), (1.57, 46.1, 0.4),
    (1.57, 39, 0.35), (1.55, 48.7, 0.4), (1.55, 35.4, 0.45), (1.53, 45.4, 0.4), (1.53, 40.6, 0.35),
    (1.53, 37.8, 0.4), (1.54, 33.8, 0.45), (1.51, 56.7, 0.4), (1.50, 45.4, 0.35), (1.50, 41.7, 0.4),
    (1.46, 42.3, 0.45), (1.50, 38.5, 0.4), (1.46, 33, 0.35), (1.48, 33, 0.4), (1.50, 32, 0.45),
    (1.50, 29.1, 0.4), (1.45, 66.1, 0.35), (1.48, 85, 0.45), (1.46, 102, 0.35), (1.51, 101, 0.5),
    (1.52, 93.6, 0.4), (1.54, 88.5, 0.45), (1.55, 85, 0.4), (1.52, 74, 0.35), (1.53, 73, 0.4),
    (1.52, 65, 0.45), (1.54, 64, 0.4), (1.56, 60.8, 0.35), (1.57, 98.8, 0.5), (1.59, 100, 0.45),
    (1.59, 93.6, 0.4), (1.58, 128, 0.45), (1.57, 118, 0.4), (1.57, 161, 0.5), (1.59, 172, 0.4),
    (1.55, 149, 0.5), (1.60, 76, 0.4), (1.60, 64, 0.35), (1.44, 26.7, 0.4), (1.47, 25.3, 0.45),
    (1.50, 25.6, 0.4), (1.54, 26.7, 0.35), (1.56, 26, 0.4), (1.58, 27, 0.45), (1.55, 24.3, 0.4),
    (1.58, 24.6, 0.35), (1.60, 24.3, 0.4), (1.64, 26, 0.45), (1.70, 26, 0.4), (1.73, 27.5, 0.35),
    (1.75, 26, 0.4), (1.79, 25, 0.45), (1.84, 23.9, 0.4), (1.85, 27.5, 0.35), (1.86, 28.7, 0.4),
    (1.87, 25.6, 0.45), (1.89, 27.5, 0.4), (1.91, 24.3, 0.35), (2.08, 24.6, 0.4), (2.19, 23.7, 0.45),
]

b_lower = [
    (1.48, 22.6, 0.4), (1.47, 20.7, 0.45), (1.49, 21.2, 0.4), (1.50, 19.3, 0.35), (1.45, 18.0, 0.4),
    (1.52, 18.0, 0.45), (1.53, 20.6, 0.4), (1.54, 21.8, 0.35), (1.58, 20.6, 0.4), (1.60, 19.9, 0.45),
    (1.55, 18.7, 0.4), (1.50, 16.4, 0.35), (1.45, 15.1, 0.4), (1.49, 14.1, 0.45), (1.51, 13.3, 0.4),
    (1.53, 13.7, 0.35), (1.55, 12.9, 0.4), (1.45, 13.0, 0.45), (1.50, 12.2, 0.4), (1.47, 11.9, 0.35),
    (1.45, 11.0, 0.4), (1.50, 11.2, 0.45), (1.54, 10.4, 0.4), (1.55, 14.8, 0.35), (1.56, 15.4, 0.4),
    (1.56, 12.2, 0.45), (1.58, 12.7, 0.4), (1.60, 11.9, 0.35), (1.56, 10.6, 0.4), (1.57, 10.6, 0.45),
    (1.61, 16.3, 0.4), (1.62, 15.1, 0.35), (1.63, 14.8, 0.4), (1.65, 16.9, 0.45), (1.66, 15.1, 0.4),
    (1.64, 21.3, 0.35), (1.65, 19.8, 0.4), (1.63, 18.8, 0.45), (1.67, 19.4, 0.4), (1.70, 20.2, 0.35),
    (1.71, 19.5, 0.4), (1.69, 17.9, 0.45), (1.67, 17.5, 0.4), (1.71, 16.5, 0.35), (1.69, 14.9, 0.4),
    (1.66, 14.3, 0.45), (1.63, 13.7, 0.4), (1.64, 13.2, 0.35), (1.68, 12.4, 0.4), (1.64, 11.9, 0.45),
    (1.61, 11.0, 0.4), (1.64, 11.0, 0.35), (1.65, 11.4, 0.4), (1.68, 10.8, 0.45), (1.71, 10.8, 0.4),
    (1.74, 18.4, 0.35), (1.75, 16.9, 0.4), (1.73, 13.1, 0.45), (1.75, 12.7, 0.4), (1.76, 11.2, 0.35),
    (1.78, 14.2, 0.4), (1.81, 11.6, 0.45), (1.83, 13.2, 0.4), (1.83, 13.6, 0.35), (1.83, 15.5, 0.4),
    (1.86, 12.8, 0.45), (1.86, 10.9, 0.4), (1.87, 11.6, 0.35), (1.83, 18.9, 0.4), (1.79, 21, 0.45),
    (1.79, 22.7, 0.4), (1.84, 22.0, 0.35), (1.89, 22.5, 0.4), (1.95, 21, 0.35), (1.98, 18.8, 0.3),
    (1.91, 16.4, 0.35), (1.94, 15, 0.3), (1.96, 14.8, 0.35), (1.93, 14, 0.3), (1.91, 11.7, 0.35),
    (1.91, 11.1, 0.3), (1.92, 10.3, 0.45), (2.05, 21.5, 0.25), (2.08, 16.9, 0.35), (2.19, 23.2, 0.4),
    (1.44, 9.2, 0.4), (1.46, 9.3, 0.45), (1.45, 8.36, 0.4), (1.47, 8.45, 0.35), (1.49, 9.1, 0.4),
    (1.50, 8.2, 0.45), (1.51, 8.8, 0.4), (1.56, 8.1, 0.35), (1.57, 7.5, 0.4), (1.57, 9.3, 0.45),
    (1.59, 8.8, 0.4), (1.64, 9.3, 0.35), (1.66, 8.8, 0.4), (1.63, 7.9, 0.45), (1.62, 7.2, 0.4),
    (1.63, 6.7, 0.35), (1.66, 6.8, 0.4), (1.68, 8.2, 0.45), (1.71, 8.8, 0.4), (1.73, 9.3, 0.35),
    (1.74, 8.8, 0.4), (1.83, 8.8, 0.35), (1.51, 6.8, 0.4), (1.53, 7.1, 0.45), (1.57, 6.8, 0.4),
    (1.44, 6.4, 0.35), (1.46, 6.0, 0.4), (1.47, 6.3, 0.45), (1.45, 5.4, 0.4), (1.47, 4.8, 0.35),
    (1.55, 6.4, 0.4), (1.58, 6.4, 0.45), (1.54, 4.69, 0.4), (1.56, 4.34, 0.35), (1.57, 5.27, 0.4),
    (1.58, 4.47, 0.45), (1.57, 5.05, 0.4), (1.63, 4.45, 0.35), (1.65, 4.5, 0.4), (1.66, 6.3, 0.45),
    (1.69, 5.4, 0.4), (1.71, 4.5, 0.35), (1.74, 5.66, 0.4), (1.77, 5.5, 0.45), (1.77, 4.8, 0.35),
    (1.79, 4.85, 0.4), (1.63, 3.62, 0.35), (1.66, 3.65, 0.4), (1.65, 3.15, 0.35), (1.84, 6.3, 0.4),
    (1.85, 5.0, 0.25), (1.92, 7.0, 0.3), (1.93, 7.4, 0.3), (1.51, 3.37, 0.1), (1.48, 3.0, 0.25),
    (1.79, 2.84, 0.1), (1.45, 2.26, 0.35), (1.58, 2.05, 0.1), (1.47, 1.57, 0.2), (1.49, 1.42, 0.2),
    (1.50, 1.48, 0.9),
]

# crowded left cluster of panel (b), estimated from its density
b_blob = [
    (1.42, 12, 0.4), (1.42, 22, 0.35), (1.43, 35, 0.45), (1.43, 16, 0.4), (1.44, 48, 0.35),
    (1.44, 9.5, 0.4), (1.45, 28, 0.45), (1.45, 19, 0.35), (1.46, 60, 0.4), (1.46, 14, 0.45),
    (1.47, 38, 0.35), (1.47, 11, 0.4), (1.48, 52, 0.45), (1.48, 17, 0.35), (1.49, 30, 0.4),
    (1.49, 9.8, 0.45), (1.50, 75, 0.35), (1.50, 23, 0.4), (1.51, 45, 0.45), (1.51, 15, 0.35),
    (1.52, 33, 0.4), (1.52, 12.5, 0.45), (1.53, 58, 0.35), (1.53, 19, 0.4), (1.54, 110, 0.45),
    (1.54, 27, 0.35), (1.55, 40, 0.4), (1.55, 11.5, 0.45), (1.56, 70, 0.35), (1.56, 17.5, 0.4),
    (1.57, 31, 0.45), (1.58, 55, 0.35), (1.58, 14, 0.4), (1.59, 42, 0.45), (1.60, 85, 0.35),
    (1.60, 21, 0.4), (1.61, 36, 0.45), (1.62, 120, 0.35), (1.62, 18, 0.4), (1.63, 52, 0.45),
    (1.64, 28, 0.35), (1.65, 95, 0.4), (1.65, 13, 0.45), (1.66, 44, 0.35), (1.67, 24, 0.4),
    (1.68, 68, 0.45), (1.69, 17, 0.35), (1.70, 105, 0.4), (1.70, 35, 0.45), (1.72, 22, 0.35),
    (1.73, 48, 0.4), (1.75, 140, 0.45), (1.76, 20, 0.35), (1.78, 38, 0.4), (1.80, 150, 0.45),
    (1.82, 28, 0.35), (1.85, 90, 0.4), (1.88, 16, 0.45), (1.90, 110, 0.35), (1.95, 40, 0.4),
]

xticks = [1.4, 2, 3, 4, 5, 6, 7, 8, 9, 10]
xticklabels = ["1.4", "2", "3", "4", "5", "6", "7", "8", "9", "10"]

sns.set_theme(style="ticks")
plt.rcParams.update({
    "font.family": "serif",
    "font.serif": ["cmr10"],
    "mathtext.fontset": "cm",
    "axes.formatter.use_mathtext": True,
    "axes.unicode_minus": False,
    "axes.edgecolor": "black",
    "axes.linewidth": 1.8,
    "text.color": "black",
    "axes.labelcolor": "black",
    "xtick.color": "black",
    "ytick.color": "black",
})


def draw(ax, groups):
    pts = np.array([p for g in groups for p in g])
    mass, ratio, frac = pts[:, 0], pts[:, 1], pts[:, 2]
    ax.errorbar(mass, ratio, yerr=frac * ratio, fmt="none", ecolor="blue",
                elinewidth=0.7, alpha=0.25, zorder=1)
    sns.scatterplot(x=mass, y=ratio, ax=ax, color="blue", s=14, alpha=0.62,
                    edgecolor="blue", linewidth=0.5, zorder=2)


def style(ax, xmax, ylim):
    ax.set_xscale("log")
    ax.set_yscale("log")
    ax.set_xlim(1.4, xmax)
    ax.set_ylim(*ylim)
    ax.xaxis.set_major_locator(FixedLocator(xticks))
    ax.xaxis.set_major_formatter(FixedFormatter(xticklabels))
    ax.xaxis.set_minor_locator(NullLocator())
    ax.yaxis.set_minor_locator(LogLocator(base=10, subs=np.arange(2, 10), numticks=20))
    ax.yaxis.set_minor_formatter(NullFormatter())
    ax.tick_params(which="both", direction="in", top=True, right=True)
    ax.tick_params(which="major", length=10, width=1.5, labelsize=17, pad=8)
    ax.tick_params(which="minor", length=5.5, width=1.2)
    ax.set_xlabel(r"$\mathrm{Fit\_companion\_mass}\ [M_{\odot}]$", fontsize=18)


fig, (ax1, ax2) = plt.subplots(1, 2, figsize=(14.468, 7.256))
fig.subplots_adjust(left=0.0758, right=0.9923, bottom=0.0987, top=0.9713, wspace=0.192)

draw(ax1, [a_sparse, a_mid, a_upper, a_core, a_blob, a_low])
ax1.axhline(3.0, color="cyan", ls="--", lw=1.3, zorder=3)
ax1.axhline(1.2, color="gold", ls="--", lw=1.3, zorder=3)
style(ax1, 14.7, (0.1, 100))
ax1.set_ylabel(r"$F_{\rm NUV,obs}/F_{\rm NUV,mod}$", fontsize=17)
ax1.text(0.02, 0.975, "(a)", transform=ax1.transAxes, ha="left", va="top", fontsize=19)

draw(ax2, [b_sparse, b_mid, b_upper, b_lower, b_blob])
ax2.axhline(10, color="orange", ls="--", lw=1.3, zorder=3)
style(ax2, 12.0, (1, 1e5))
ax2.set_ylabel(r"$F_{\rm NUV,tot\_mod}/F_{\rm NUV,obs}$", fontsize=17)
ax2.text(0.02, 0.975, "(b)", transform=ax2.transAxes, ha="left", va="top", fontsize=19)

fig.savefig("out.png", dpi=250)
